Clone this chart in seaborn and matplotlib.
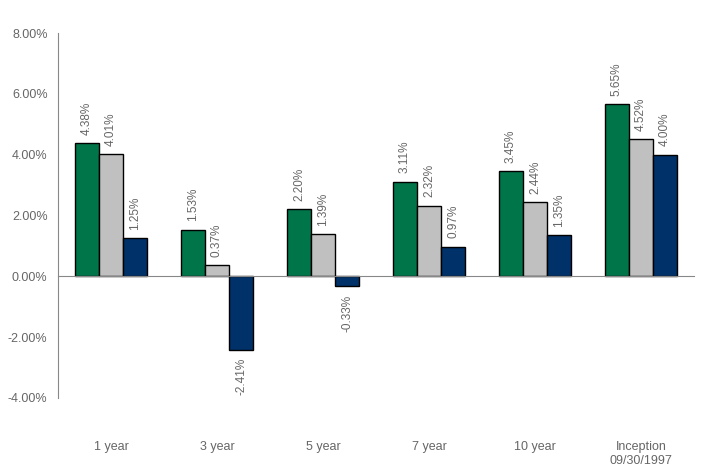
import matplotlib
matplotlib.use("Agg")
import matplotlib.pyplot as plt
import matplotlib.transforms as mtransforms
from matplotlib.ticker import PercentFormatter, FixedLocator
import seaborn as sns
import pandas as pd

periods = ["1 year", "3 year", "5 year", "7 year", "10 year", "Inception\n09/30/1997"]
series_names = ["Fund", "Benchmark", "Peer group"]
fund = [4.38, 1.53, 2.20, 3.11, 3.45, 5.65]
benchmark = [4.01, 0.37, 1.39, 2.32, 2.44, 4.52]
peer = [1.25, -2.41, -0.33, 0.97, 1.35, 4.00]
colors = ["#00754A", "#C0C0C0", "#003168"]
y_ticks = [-4, -2, 0, 2, 4, 6, 8]

rows = []
for name, vals in zip(series_names, [fund, benchmark, peer]):
    for p, v in zip(periods, vals):
        rows.append({"period": p, "series": name, "value": v})
df = pd.DataFrame(rows)

sns.set_style("white")
plt.rcParams["font.family"] = ["Liberation Sans", "DejaVu Sans"]
plt.rcParams["axes.unicode_minus"] = False

text_color = "#666666"
axis_color = "#888888"

fig = plt.figure(figsize=(7.22, 4.76), dpi=100)
ax = fig.add_axes([58 / 722, (476 - 398) / 476, (694 - 58) / 722, (398 - 33) / 476])

sns.barplot(data=df, x="period", y="value", hue="series", order=periods,
            hue_order=series_names, palette=colors, edgecolor="black",
            linewidth=1, width=0.68, errorbar=None, legend=False, ax=ax,
            saturation=1)

for cont in ax.containers:
    ax.bar_label(cont, fmt="%.2f%%", rotation=90, padding=6,
                 color=text_color, fontsize=8.5)

ax.set_ylim(-4, 8)
ax.set_xlim(-0.5, len(periods) - 0.5)
ax.yaxis.set_major_locator(FixedLocator(y_ticks))
ax.yaxis.set_major_formatter(PercentFormatter(xmax=100, decimals=2))
ax.tick_params(axis="y", direction="out", length=4, color=axis_color,
               labelcolor=text_color, labelsize=9, width=1)

ax.spines["top"].set_visible(False)
ax.spines["right"].set_visible(False)
ax.spines["left"].set_color(axis_color)
ax.spines["bottom"].set_color(axis_color)
ax.spines["bottom"].set_position(("data", 0))

ax.set_xticks([i - 0.5 for i in range(len(periods) + 1)])
ax.set_xticklabels([])
ax.tick_params(axis="x", direction="out", length=4, color=axis_color, width=1)

trans = mtransforms.blended_transform_factory(ax.transData, ax.transAxes)
for i, p in enumerate(periods):
    ax.text(i, -0.118, p, transform=trans, ha="center", va="top",
            fontsize=9, color=text_color, linespacing=1.2)

ax.set_xlabel("")
ax.set_ylabel("")
ax.grid(False)

fig.savefig("out.png", dpi=100)
